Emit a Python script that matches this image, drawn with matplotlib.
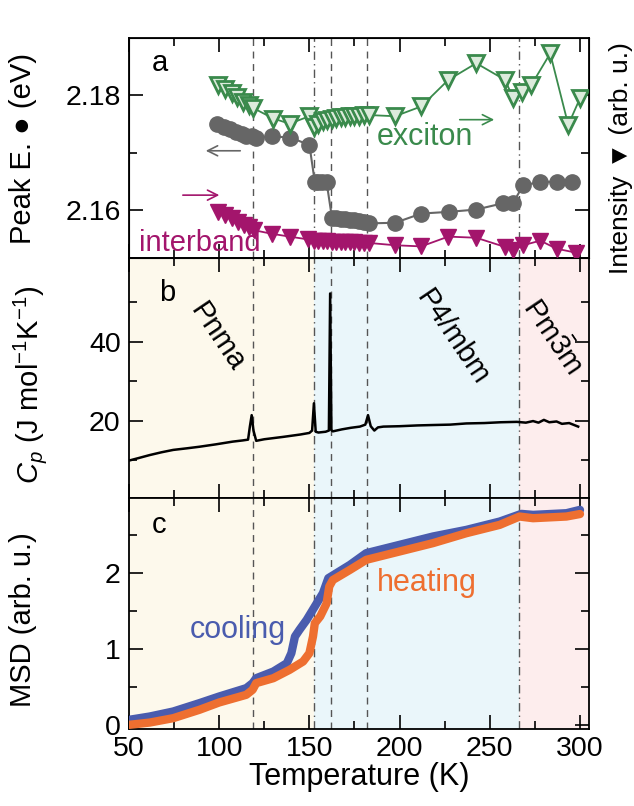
import numpy as np
import matplotlib
matplotlib.use('Agg')
import matplotlib.pyplot as plt

plt.rcParams['font.family'] = ['Liberation Sans', 'DejaVu Sans']
plt.rcParams['mathtext.fontset'] = 'custom'
plt.rcParams['mathtext.rm'] = 'Liberation Sans'
plt.rcParams['mathtext.it'] = 'Liberation Sans:italic'
plt.rcParams['mathtext.bf'] = 'Liberation Sans:bold'

# panel a: peak energy (left axis) and intensities (right axis, arb. u.)
T_peak = [99, 102.5, 106, 109.5, 112.5, 115, 118, 120.5, 129.5, 139.5, 150,
          153, 155, 157, 159.5, 162.5, 165, 167.5, 170, 172.5, 175, 177.5, 180, 183,
          197.5, 212, 227.5, 242.5, 257.5, 263, 268.5, 278, 287, 295.5]
E_peak = [2.1750, 2.1745, 2.1740, 2.1736, 2.1732, 2.1729, 2.1728, 2.1726, 2.1728, 2.1726, 2.1713,
          2.1649, 2.1649, 2.1649, 2.1649, 2.1587, 2.1586, 2.1585, 2.1584, 2.1583, 2.1582, 2.1581, 2.1579, 2.1577,
          2.1578, 2.1594, 2.1597, 2.1601, 2.1612, 2.1613, 2.1643, 2.1649, 2.1649, 2.1649]

T_exc = [99.5, 103, 107, 110, 113, 116.5, 119, 130, 139, 150, 152.5, 155, 157.5, 160,
         162.5, 165, 167.5, 170, 172.5, 175, 177.5, 180, 183, 197.5, 212, 227, 242.5,
         258.5, 263, 268, 273, 283.5, 293.5, 300]
I_exc = [2.1817, 2.1810, 2.1803, 2.1797, 2.1788, 2.1783, 2.1777, 2.1759, 2.1750, 2.1763, 2.1745,
         2.1750, 2.1754, 2.1757, 2.1759, 2.1760, 2.1761, 2.1762, 2.1763, 2.1763, 2.1764, 2.1765,
         2.1765, 2.1763, 2.1780, 2.1826, 2.1855, 2.1826, 2.1794, 2.1805, 2.1817, 2.1872, 2.1748, 2.1794]

T_int = [99.5, 103, 107, 110.5, 113.5, 116.5, 119.5, 129, 139, 149.5, 152.5, 155, 157.5, 160,
         162.5, 165, 167.5, 170, 172.5, 175, 177.5, 180, 183, 197.5, 212, 227, 242.5, 258.5,
         263, 268.5, 278, 287, 298]
I_int = [2.1597, 2.1591, 2.1586, 2.1580, 2.1575, 2.1570, 2.1565, 2.1559, 2.1554, 2.1549, 2.1547,
         2.1547, 2.1546, 2.1546, 2.1545, 2.1545, 2.1545, 2.1544, 2.1544, 2.1544, 2.1543, 2.1543,
         2.1543, 2.1539, 2.1537, 2.1554, 2.1552, 2.1536, 2.1530, 2.1539, 2.1547, 2.1533, 2.1526]

# panel b: heat capacity
T_cp = [50, 55, 61.5, 68, 74.5, 82, 89, 98, 107.5, 113, 116, 117, 118, 119, 120.5, 125, 135.5,
        145, 150, 151.5, 152.5, 153.5, 155, 159, 160.8, 161.5, 162.2, 163, 168, 173, 178, 181,
        182.5, 184, 186, 188, 191, 200, 210, 218.5, 228, 237, 247, 256, 265, 270, 274, 277, 280,
        283, 287, 290, 294, 299]
Cp = [9.9, 10.5, 11.3, 12.0, 12.6, 13.0, 13.4, 14.0, 14.7, 15.0, 15.2, 18.5, 21.4, 17.5, 14.9,
      15.3, 15.9, 16.5, 16.9, 17.5, 24.4, 17.2, 17.0, 17.2, 17.5, 52.2, 17.6, 17.3, 17.8, 18.2,
      18.5, 19.0, 21.4, 18.6, 17.5, 18.3, 18.5, 18.6, 18.8, 18.9, 19.0, 19.3, 19.4, 19.6, 19.7,
      19.5, 19.9, 19.5, 20.2, 19.6, 19.8, 19.2, 19.4, 18.5]

# panel c: mean square displacement
T_cool = [50, 61.5, 74.5, 89, 100, 115, 118.5, 120.5, 130, 137.5, 140, 142, 144.5, 148.5, 154,
          157.5, 160.5, 165, 172.5, 181.5, 200, 218.5, 237, 255.5, 267.5, 274, 292.5, 300]
MSD_cool = [0.066, 0.11, 0.176, 0.286, 0.374, 0.484, 0.55, 0.615, 0.703, 0.813, 0.945, 1.165,
            1.253, 1.385, 1.60, 1.736, 1.934, 2.0, 2.11, 2.264, 2.374, 2.484, 2.571, 2.681,
            2.782, 2.769, 2.791, 2.835]
T_heat = [50, 61.5, 74.5, 89, 100, 115, 118.5, 120.5, 130, 139, 146.5, 150, 152, 153, 156,
          159.5, 161, 163, 172.5, 181.5, 200, 218.5, 237, 255.5, 266.5, 274, 292.5, 300]
MSD_heat = [0.0, 0.03, 0.088, 0.198, 0.295, 0.396, 0.462, 0.55, 0.615, 0.725, 0.835, 0.945,
            1.165, 1.34, 1.43, 1.60, 1.824, 1.91, 2.044, 2.176, 2.286, 2.396, 2.527, 2.637,
            2.747, 2.725, 2.747, 2.78]

dashed_T = [118.5, 162, 182]
dashdot_T = [152.5, 266]
phase_edges = [50, 152.5, 266, 305]
phase_colors = ['#fdf9ec', '#eaf6fa', '#fdeded']

fig = plt.figure(figsize=(6.34, 8.06), dpi=100)
left, width = 0.2035, 0.7255
ax_a = fig.add_axes([left, 0.680, width, 0.273])
ax_b = fig.add_axes([left, 0.382, width, 0.298])
ax_c = fig.add_axes([left, 0.096, width, 0.286])

for ax in (ax_a, ax_b, ax_c):
    ax.set_xlim(50, 305)
    ax.set_xticks([50, 100, 150, 200, 250, 300])
    ax.set_xticks([75, 125, 175, 225, 275], minor=True)
    ax.tick_params(which='both', direction='in', top=True, right=True, labelsize=20.5)
    ax.tick_params(which='major', length=10, width=1.2)
    ax.tick_params(which='minor', length=6, width=1.2)
    ax.tick_params(axis='y', pad=6)
    ax.tick_params(axis='x', pad=5)
    for s in ax.spines.values():
        s.set_linewidth(1.3)
    for t in dashed_T:
        ax.axvline(t, color='#555555', lw=1, ls=(0, (5, 4)), zorder=1)
    for t in dashdot_T:
        ax.axvline(t, color='#555555', lw=1, ls=(0, (6, 3, 1, 3)), zorder=1)
    if ax is not ax_a:
        for i in range(3):
            ax.axvspan(phase_edges[i], phase_edges[i + 1], color=phase_colors[i], lw=0, zorder=0)
    if ax is not ax_c:
        ax.tick_params(labelbottom=False)

# panel a
ax_a.set_ylim(2.1517, 2.1899)
ax_a.set_yticks([2.16, 2.18])
ax_a.set_yticks([2.17], minor=True)
ax_a.set_yticklabels(['2.16', '2.18'])
ax_a.plot(T_peak, E_peak, '-o', color='#666666', ms=11, lw=1.5, zorder=3)
ax_i = ax_a.twinx()
ax_i.set_ylim(ax_a.get_ylim())
ax_i.set_yticks([2.16, 2.18])
ax_i.set_yticks([2.17], minor=True)
ax_i.tick_params(which='both', direction='in', labelright=False)
ax_i.tick_params(which='major', length=10, width=1.2)
ax_i.tick_params(which='minor', length=6, width=1.2)
ax_i.plot(T_exc, I_exc, '-v', color='#3a8a4c', mfc='#dcebdc', mec='#3a8a4c', mew=2, ms=11, lw=1.3)
ax_i.plot(T_int, I_int, '-v', color='#a3156c', ms=11, lw=1.3)
ax_a.text(0.067, 0.886, 'a', transform=ax_a.transAxes, fontsize=21, ha='center', va='center')
ax_a.text(214, 2.1727, 'exciton', color='#3a8a4c', fontsize=22, ha='center', va='center')
ax_a.text(89.4, 2.1543, 'interband', color='#a3156c', fontsize=21, ha='center', va='center')
ax_a.annotate('', xy=(91, 2.1703), xytext=(113.2, 2.1703),
              arrowprops=dict(arrowstyle='->', color='#666666', lw=1.2, mutation_scale=18))
ax_a.annotate('', xy=(254, 2.1757), xytext=(231.8, 2.1757),
              arrowprops=dict(arrowstyle='->', color='#3a8a4c', lw=1.2, mutation_scale=18))
ax_a.annotate('', xy=(101.6, 2.1626), xytext=(78.3, 2.1626),
              arrowprops=dict(arrowstyle='->', color='#a3156c', lw=1.2, mutation_scale=18))

# panel b
ax_b.set_ylim(0.4, 61.2)
ax_b.set_yticks([20, 40])
ax_b.set_yticks([10, 30, 50], minor=True)
ax_b.plot(T_cp, Cp, color='black', lw=1.8, zorder=3)
ax_b.text(0.083, 0.854, 'b', transform=ax_b.transAxes, fontsize=21, ha='center', va='center')
ax_b.text(99.3, 41.2, 'Pnma', fontsize=21, rotation=-56, ha='center', va='center')
ax_b.text(229.6, 41.2, 'P4/mbm', fontsize=21, rotation=-56, ha='center', va='center')
ax_b.text(284.5, 41.2, r'Pm$\bar{3}$m', fontsize=21, rotation=-56, ha='center', va='center')

# panel c
ax_c.set_ylim(-0.05, 2.99)
ax_c.set_yticks([0, 1, 2])
ax_c.set_yticks([0.5, 1.5, 2.5], minor=True)
ax_c.plot(T_cool, MSD_cool, color='#4a5cae', lw=6, solid_capstyle='round', zorder=3)
ax_c.plot(T_heat, MSD_heat, color='#ee6f30', lw=6, solid_capstyle='round', zorder=4)
ax_c.text(0.065, 0.883, 'c', transform=ax_c.transAxes, fontsize=21, ha='center', va='center')
ax_c.text(110.4, 1.25, 'cooling', color='#4a5cae', fontsize=22, ha='center', va='center', zorder=5)
ax_c.text(215.2, 1.87, 'heating', color='#ee6f30', fontsize=22, ha='center', va='center', zorder=5)
ax_c.set_xlabel('Temperature (K)', fontsize=22, labelpad=0)

# y labels
fig.text(23 / 634, 1 - 148 / 806, 'Peak E. \u25cf (eV)', rotation=90, fontsize=21, ha='center', va='center')
fig.text(30 / 634, 1 - 385 / 806, r'$C_p$ (J mol$^{-1}$K$^{-1}$)', rotation=90, fontsize=21,
         ha='center', va='center')
fig.text(23 / 634, 1 - 620 / 806, 'MSD (arb. u.)', rotation=90, fontsize=21, ha='center', va='center')
fig.text(621 / 634, 1 - 158 / 806, 'Intensity \u25bc (arb. u.)', rotation=90, fontsize=19,
         ha='center', va='center')

fig.savefig('out.png', dpi=100)
